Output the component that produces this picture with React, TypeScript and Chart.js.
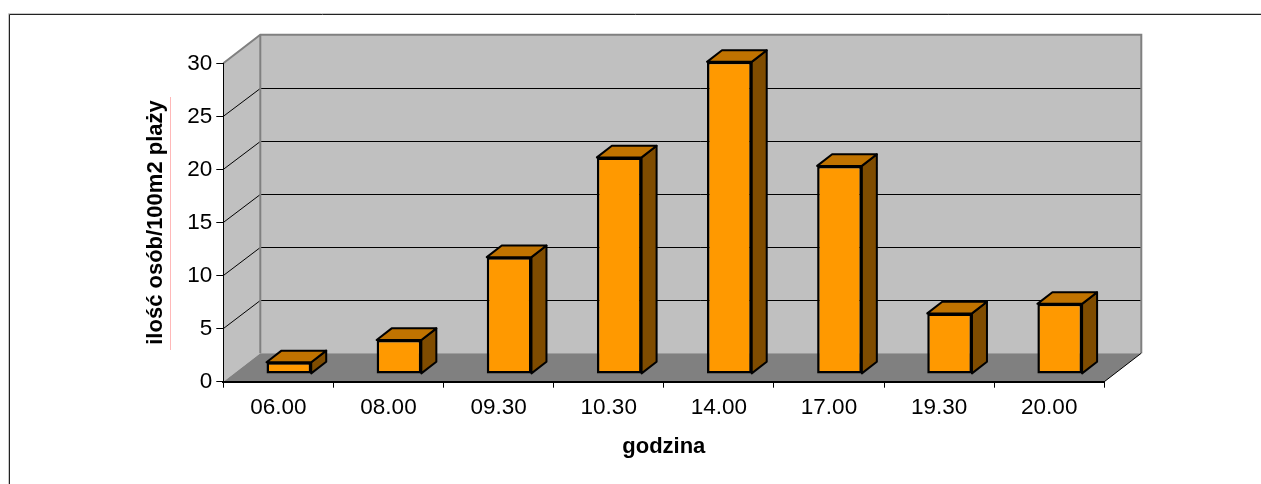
import { useEffect, useRef } from 'react';
import { Chart, registerables } from 'chart.js';

Chart.register(...registerables);

// Beach occupancy per hour of the day
const hours = ['06.00', '08.00', '09.30', '10.30', '14.00', '17.00', '19.30', '20.00'];
const people = [1.1, 3.2, 11, 20.4, 29.4, 19.6, 5.7, 6.6];
const yTicks = [0, 5, 10, 15, 20, 25, 30];
const yTitle = 'ilość osób/100m2 plaży';
const xTitle = 'godzina';

const FONT = '"Liberation Sans", Arial, Helvetica, sans-serif';

// oblique projection of the plot box and of the columns
const WALL_DX = 37;
const WALL_DY = -28.5;
const BAR_DX = 10.5;
const BAR_DY = -7.8;
const DEPTH_DX = 15;
const DEPTH_DY = -11.6;

function poly(ctx: CanvasRenderingContext2D, pts: number[][]) {
  ctx.beginPath();
  ctx.moveTo(pts[0][0], pts[0][1]);
  for (let i = 1; i < pts.length; i++) ctx.lineTo(pts[i][0], pts[i][1]);
  ctx.closePath();
}

const walls3d = {
  id: 'walls3d',
  beforeDraw(chart: any) {
    const { ctx, chartArea: a, scales } = chart;
    const y = scales.y;
    const L = a.left;
    const R = a.right;
    const T = y.getPixelForValue(yTicks[yTicks.length - 1]);
    const B = y.getPixelForValue(yTicks[0]);
    ctx.save();

    // outer frame
    ctx.lineWidth = 1;
    ctx.strokeStyle = '#c8c8c8';
    ctx.beginPath();
    ctx.moveTo(8.5, 484);
    ctx.lineTo(8.5, 13.5);
    ctx.lineTo(1261, 13.5);
    ctx.stroke();
    ctx.strokeStyle = '#222';
    ctx.beginPath();
    ctx.moveTo(9.5, 484);
    ctx.lineTo(9.5, 14.5);
    ctx.lineTo(1261, 14.5);
    ctx.stroke();

    // back wall
    ctx.fillStyle = '#c0c0c0';
    ctx.fillRect(L + WALL_DX, T + WALL_DY, R - L, B - T);
    // side wall
    poly(ctx, [[L, B], [L, T], [L + WALL_DX, T + WALL_DY], [L + WALL_DX, B + WALL_DY]]);
    ctx.fill();
    // floor
    ctx.fillStyle = '#808080';
    poly(ctx, [[L, B], [L + WALL_DX, B + WALL_DY], [R + WALL_DX, B + WALL_DY], [R, B]]);
    ctx.fill();

    // gridlines on both walls
    ctx.strokeStyle = '#000';
    ctx.lineWidth = 1;
    yTicks.slice(1, -1).forEach((v) => {
      const py = y.getPixelForValue(v);
      const by = Math.round(py + WALL_DY) + 0.5;
      ctx.beginPath();
      ctx.moveTo(L, py);
      ctx.lineTo(L + WALL_DX, by);
      ctx.lineTo(R + WALL_DX, by);
      ctx.stroke();
    });

    // wall edges
    ctx.strokeStyle = '#808080';
    ctx.lineWidth = 2;
    ctx.beginPath();
    ctx.moveTo(L, T);
    ctx.lineTo(L + WALL_DX, T + WALL_DY);
    ctx.lineTo(R + WALL_DX, T + WALL_DY);
    ctx.lineTo(R + WALL_DX, B + WALL_DY);
    ctx.moveTo(L + WALL_DX, T + WALL_DY);
    ctx.lineTo(L + WALL_DX, B + WALL_DY);
    ctx.stroke();

    ctx.strokeStyle = '#000';
    ctx.lineWidth = 1;
    ctx.beginPath();
    ctx.moveTo(R, B);
    ctx.lineTo(R + WALL_DX, B + WALL_DY);
    ctx.stroke();

    ctx.restore();
  },
  afterDraw(chart: any) {
    const { ctx } = chart;
    ctx.save();
    ctx.strokeStyle = '#ffb8b8';
    ctx.lineWidth = 1;
    ctx.beginPath();
    ctx.moveTo(170.5, 97);
    ctx.lineTo(170.5, 350);
    ctx.stroke();
    ctx.restore();
  },
};

const bars3d = {
  id: 'bars3d',
  beforeDatasetsDraw(chart: any) {
    chart.ctx.save();
    chart.ctx.translate(BAR_DX, BAR_DY);
  },
  afterDatasetsDraw(chart: any) {
    const ctx = chart.ctx;
    const meta = chart.getDatasetMeta(0);
    ctx.lineWidth = 2;
    ctx.lineJoin = 'round';
    ctx.strokeStyle = '#000';
    meta.data.forEach((el: any) => {
      const { x, y, base, width } = el.getProps(['x', 'y', 'base', 'width'], true);
      const l = x - width / 2;
      const r = x + width / 2;
      ctx.fillStyle = '#7f4c00';
      poly(ctx, [[r, y], [r + DEPTH_DX, y + DEPTH_DY], [r + DEPTH_DX, base + DEPTH_DY], [r, base]]);
      ctx.fill();
      ctx.stroke();
      ctx.fillStyle = '#c07300';
      poly(ctx, [[l, y], [l + DEPTH_DX, y + DEPTH_DY], [r + DEPTH_DX, y + DEPTH_DY], [r, y]]);
      ctx.fill();
      ctx.stroke();
    });
    ctx.restore();
  },
};

export default function App() {
  const ref = useRef<HTMLCanvasElement | null>(null);

  useEffect(() => {
    if (!ref.current) return;
    const chart = new Chart(ref.current, {
      type: 'bar',
      data: {
        labels: hours,
        datasets: [
          {
            data: people,
            backgroundColor: '#ff9900',
            borderColor: '#000',
            borderWidth: 2.5,
            borderSkipped: false,
            barPercentage: 0.406,
            categoryPercentage: 1,
            clip: false,
          } as any,
        ],
      },
      options: {
        responsive: false,
        animation: false,
        events: [],
        layout: { padding: { left: 0, top: 63.3, right: 156.7, bottom: 0 } },
        plugins: { legend: { display: false }, tooltip: { enabled: false } },
        scales: {
          x: {
            type: 'category',
            offset: true,
            grid: {
              display: true,
              offset: true,
              drawOnChartArea: false,
              drawTicks: true,
              tickLength: 6,
              color: '#000',
              lineWidth: 1,
            },
            border: { display: true, color: '#000', width: 2 },
            ticks: {
              color: '#000',
              font: { family: FONT, size: 22.5 },
              padding: 7,
              maxRotation: 0,
              autoSkip: false,
            },
            title: {
              display: true,
              text: xTitle,
              color: '#000',
              font: { family: FONT, size: 22, weight: 'bold' },
              padding: { top: 0, bottom: 23.4 },
            },
            afterFit(s: any) {
              s.height = 102.3;
            },
          },
          y: {
            min: yTicks[0],
            max: yTicks[yTicks.length - 1],
            ticks: {
              stepSize: yTicks[1] - yTicks[0],
              color: '#000',
              font: { family: FONT, size: 22.5 },
              padding: 4,
            },
            grid: {
              drawOnChartArea: false,
              drawTicks: true,
              tickLength: 7,
              color: '#000',
              lineWidth: 1,
            },
            border: { display: true, color: '#000', width: 1 },
            title: {
              display: true,
              text: yTitle,
              color: '#000',
              font: { family: FONT, size: 22, weight: 'bold' },
              padding: { top: 142.8, bottom: 0 },
            },
            afterFit(s: any) {
              s.width = 223.3;
            },
          },
        },
      } as any,
      plugins: [walls3d, bars3d],
    });
    return () => chart.destroy();
  }, []);

  return (
    <div style={{ position: 'absolute', left: 0, top: 0, width: 1261, height: 484, background: '#fff' }}>
      <canvas ref={ref} width={1261} height={484} style={{ display: 'block' }} />
    </div>
  );
}
